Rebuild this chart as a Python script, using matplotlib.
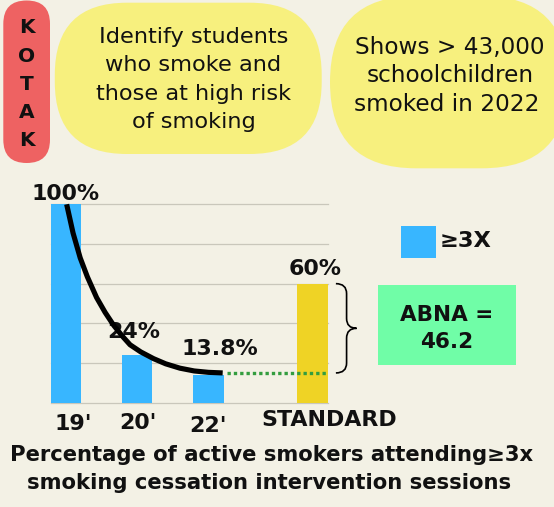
import numpy as np
import matplotlib
matplotlib.use("Agg")
import matplotlib.pyplot as plt
from matplotlib.patches import FancyBboxPatch, Rectangle, PathPatch
from matplotlib.path import Path

# ---------------- data ----------------
categories = ["19'", "20'", "22'", "STANDARD"]
values = [100, 24, 13.8, 60]
value_labels = ["100%", "24%", "13.8%", "60%"]
series_label = "\u22653X"
# trend curve
trend_x = [0.01, 0.1, 0.2, 0.3, 0.43, 0.55, 0.67, 0.8, 0.9, 1.05, 1.23, 1.4, 1.6, 1.8, 2.0, 2.2]
trend_y = [100, 85.5, 73, 63.5, 53, 45.5, 39, 33.2, 29.2, 25.6, 22.2, 19.6, 17.4, 16.0, 15.3, 15.0]
abna_text = "ABNA =\n46.2"
bubble1 = ["Identify students", "who smoke and", "those at high risk", "of smoking"]
bubble2 = ["Shows > 43,000", "schoolchildren", "smoked in 2022"]
side_word = "KOTAK"
title1 = "Percentage of active smokers attending\u22653x"
title2 = "smoking cessation intervention sessions"

# ---------------- style ----------------
BG = "#f3f1e5"
RED = "#ee6262"
YEL = "#f7f07e"
BLUE = "#38b6ff"
GOLD = "#efd325"
MINT = "#70fda7"
DOTG = "#339d3f"
GRID = "#c9c7bb"
INK = "#111111"
bar_colors = [BLUE, BLUE, BLUE, GOLD]

W, H = 554, 507
fig = plt.figure(figsize=(W / 100, H / 100), dpi=100, facecolor=BG)
renderer = fig.canvas.get_renderer()

def fit_size(s, width, weight="normal", ref=20):
    t = fig.text(0, 0, s, fontsize=ref, weight=weight)
    w = t.get_window_extent(renderer).width
    t.remove()
    return ref * width / w

sz_b1 = fit_size("those at high risk", 195.4)
sz_b2 = fit_size("Shows > 43,000", 190)
sz_lbl = fit_size("STANDARD", 135.7, "bold")
sz_title = fit_size(title1, 524, "bold")
sz_abna = fit_size("ABNA =", 93, "bold")
sz_leg = fit_size(series_label, 51.7, "bold")

# background overlay in pixel coordinates
bg = fig.add_axes([0, 0, 1, 1])
bg.set_xlim(0, W)
bg.set_ylim(H, 0)
bg.axis("off")
bg.patch.set_alpha(0)

# red pill
bg.add_patch(FancyBboxPatch((3.3, 0.5), 46.7, 162.5,
                            boxstyle="round,pad=0,rounding_size=23.3",
                            fc=RED, ec="none"))
for i, ch in enumerate(side_word):
    bg.text(26.7, 33.3 + i * 28.2, ch, ha="center", va="baseline",
            fontsize=14.5, weight="bold", color=INK)

# yellow bubble 1 (stadium)
bg.add_patch(FancyBboxPatch((54.8, 2.7), 266.9, 151.3,
                            boxstyle="round,pad=0,rounding_size=72",
                            fc=YEL, ec="none"))
for i, s in enumerate(bubble1):
    bg.text(193.5, 43.3 + i * 28.1, s, ha="center", va="baseline",
            fontsize=sz_b1, color=INK)

# yellow bubble 2 (stadium, clipped by figure edge)
bg.add_patch(FancyBboxPatch((330, -4), 238, 172.3,
                            boxstyle="round,pad=0,rounding_size=86",
                            fc=YEL, ec="none"))
b2_cx = [450, 450.5, 446.5]
for i, s in enumerate(bubble2):
    bg.text(b2_cx[i], 54 + i * 28.4, s, ha="center", va="baseline",
            fontsize=sz_b2, color=INK)

# legend
bg.add_patch(Rectangle((401, 226), 34.7, 31.7, fc=BLUE, ec="none"))
bg.text(439.3, 247.3, series_label, ha="left", va="baseline",
        fontsize=sz_leg, weight="bold", color=INK)

# ABNA box
bg.add_patch(Rectangle((378, 285), 138, 80, fc=MINT, ec="none"))
for i, s in enumerate(abna_text.split("\n")):
    bg.text(447, 320.7 + i * 27.6, s, ha="center", va="baseline",
            fontsize=sz_abna, weight="bold", color=INK)

# title
bg.text(271.5, 461, title1, ha="center", va="baseline",
        fontsize=sz_title, weight="bold", color=INK)
bg.text(268.6, 489.3, title2, ha="center", va="baseline",
        fontsize=sz_title, weight="bold", color=INK)

# ---------------- chart ----------------
x = np.array([0, 1, 2, 3.46])
bw = 0.428
ax = fig.add_axes([50.7 / W, 1 - 402.7 / H, (327.7 - 50.7) / W, (402.7 - 204.3) / H])
ax.patch.set_alpha(0)
ax.set_xlim(x[0] - bw / 2, x[-1] + bw / 2)
ax.set_ylim(0, 100)
for s in ax.spines.values():
    s.set_visible(False)
ax.set_xticks([])
ax.set_yticks([])
for g in range(0, 101, 20):
    ax.axhline(g, color=GRID, lw=0.9, zorder=0, clip_on=False)

ax.bar(x, values, width=bw, color=bar_colors, zorder=2)

# trend curve
ax.plot(trend_x, trend_y, color="black", lw=3.7, solid_capstyle="butt",
        solid_joinstyle="round", clip_on=False, zorder=5)

# dotted reference line at curve end level
lvl = trend_y[-1]
ax.plot([x[2] + bw / 2 + 0.04, x[3] + bw / 2], [lvl, lvl], color=DOTG, lw=2.4,
        linestyle=(0, (1, 0.9)), dash_capstyle="butt", zorder=4)

# brace between standard and reached level
right = x[3] + bw / 2
x0, xm, xt = right + 0.115, right + 0.265, right + 0.405
top, bot = values[3], lvl
mid = (top + bot) / 2
c = 5
verts = [(x0, top), (xm, top), (xm, top - c),
         (xm, mid + c), (xm, mid), (xt, mid),
         (xm, mid), (xm, mid - c),
         (xm, bot + c), (xm, bot), (x0, bot)]
codes = [Path.MOVETO, Path.CURVE3, Path.CURVE3,
         Path.LINETO, Path.CURVE3, Path.CURVE3,
         Path.CURVE3, Path.CURVE3,
         Path.LINETO, Path.CURVE3, Path.CURVE3]
ax.add_patch(PathPatch(Path(verts, codes), fc="none", ec="black", lw=1.2,
                       clip_on=False, zorder=4))

# value labels
val_off = [(0, 4.3), (-3.9, 17), (11.9, 20), (3, 8.3)]
for xi, v, lab, off in zip(x, values, value_labels, val_off):
    ax.annotate(lab, xy=(xi, v), xytext=off, textcoords="offset pixels",
                ha="center", va="baseline", fontsize=sz_lbl, weight="bold",
                color=INK, zorder=3, annotation_clip=False)

# category labels
cat_off = [(7.5, -27.3), (1.1, -26.3), (-0.35, -29.6), (17, -23)]
for xi, lab, off in zip(x, categories, cat_off):
    ax.annotate(lab, xy=(xi, 0), xytext=off, textcoords="offset pixels",
                ha="center", va="baseline", fontsize=sz_lbl, weight="bold",
                color=INK, annotation_clip=False)

fig.savefig("out.png", dpi=100, facecolor=BG)
